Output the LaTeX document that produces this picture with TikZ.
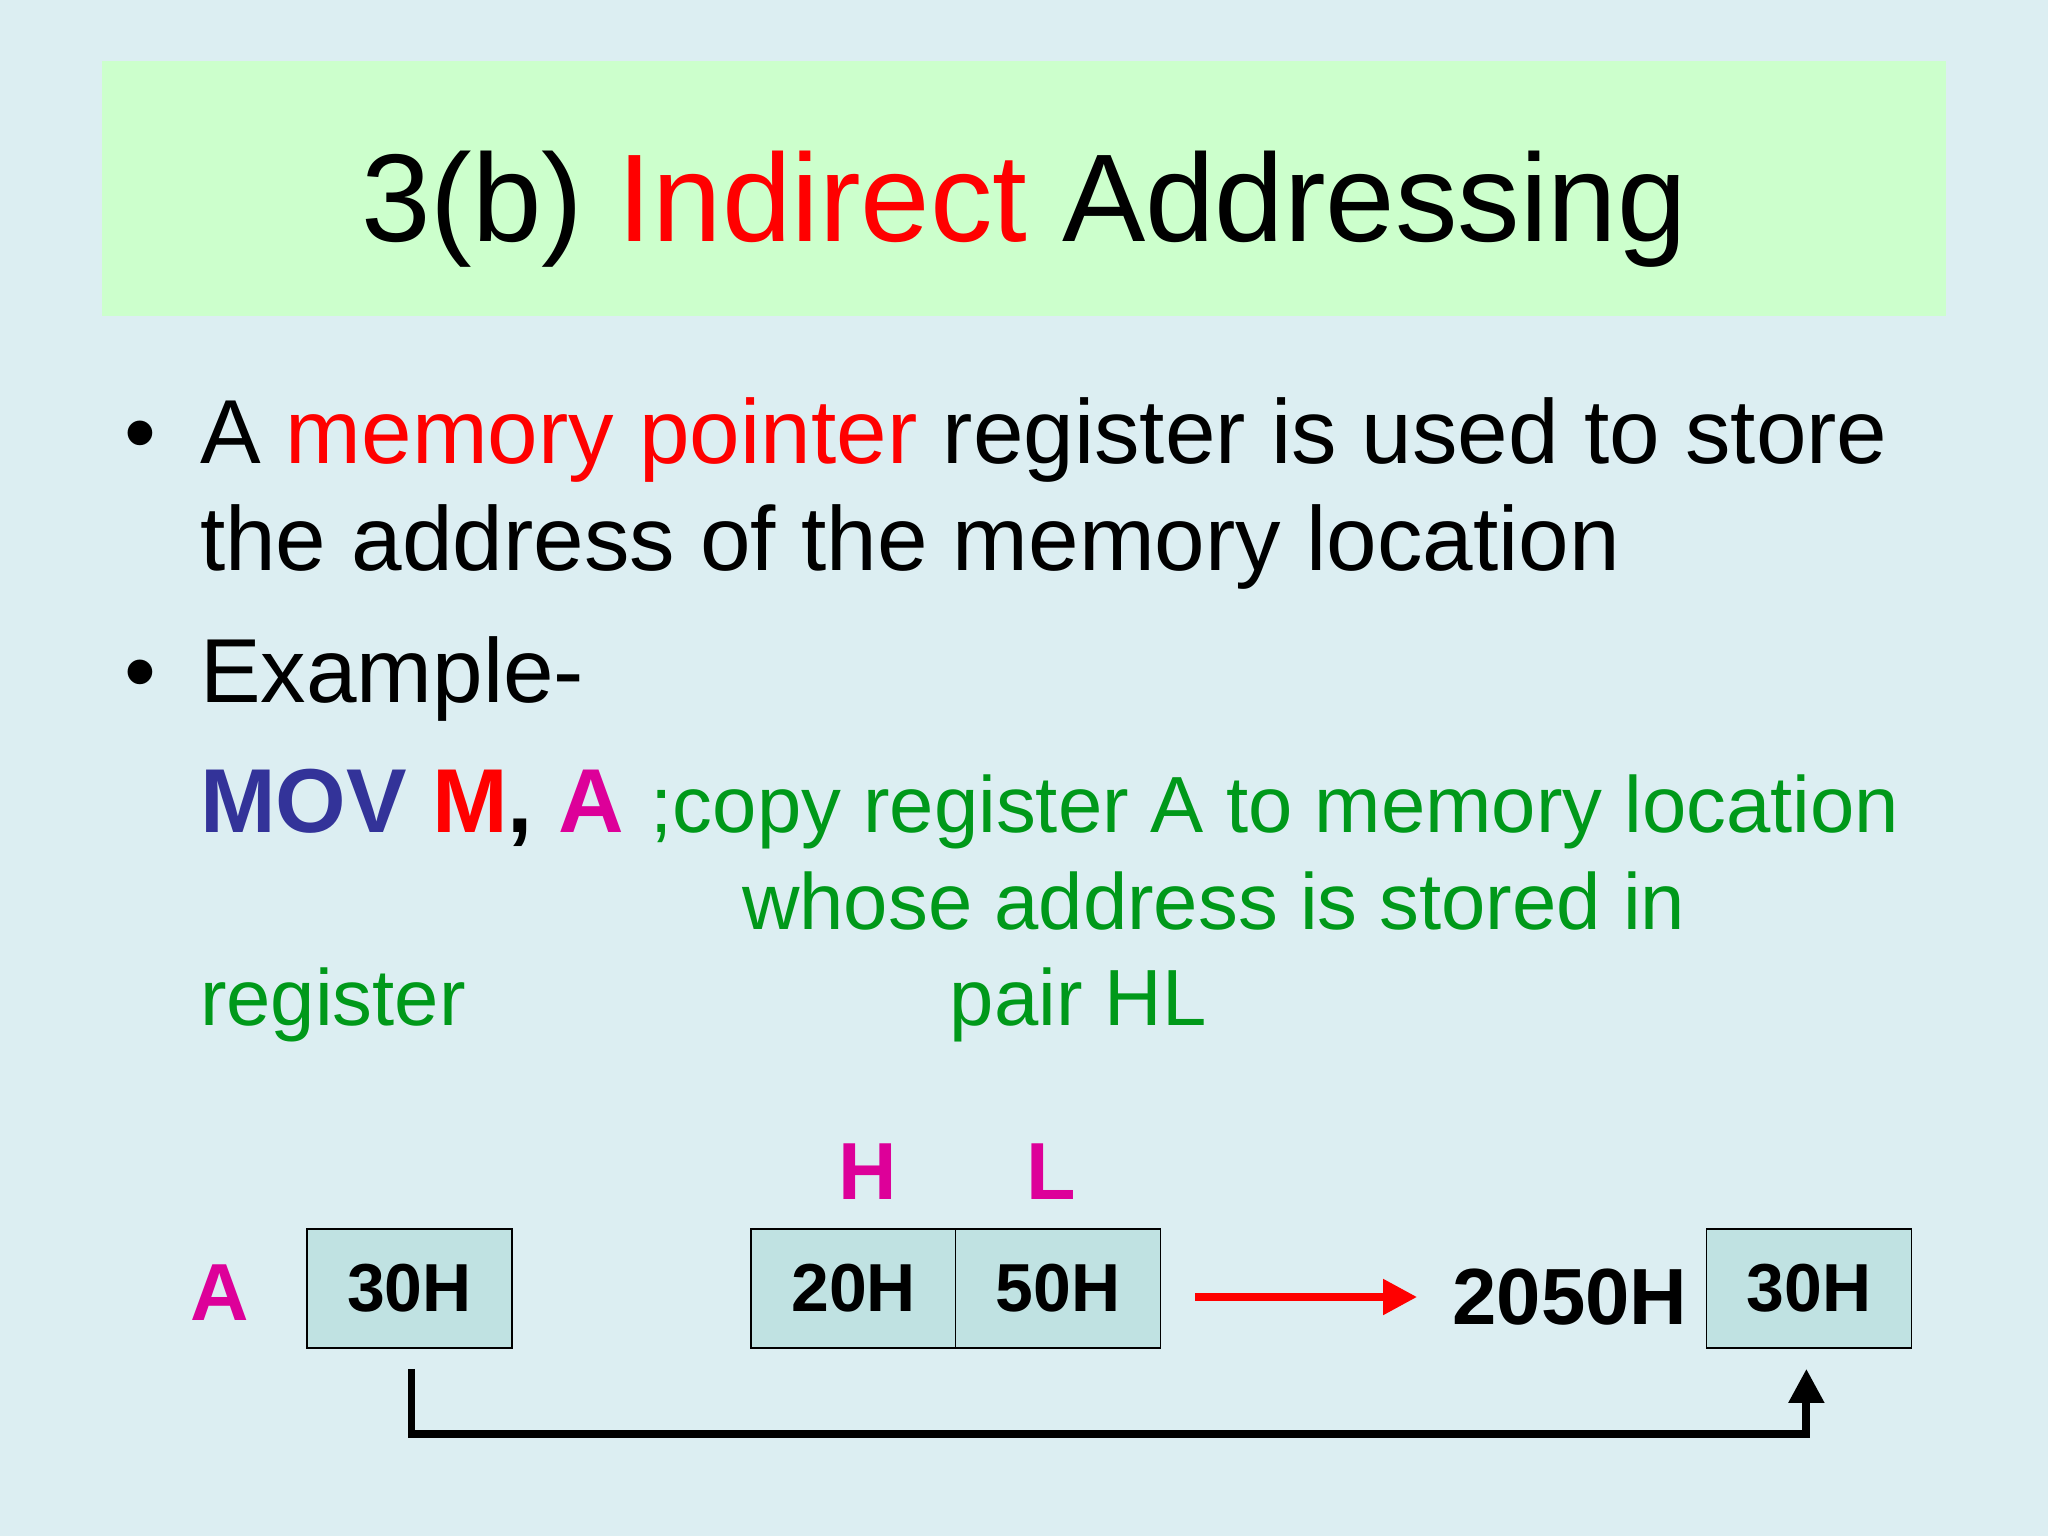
\documentclass[tikz,border=0pt]{standalone}
\usepackage{fontspec}
\setmainfont{Liberation Sans}
\usetikzlibrary{arrows.meta}
\definecolor{bg}{HTML}{DCEEF2}
\definecolor{ttl}{HTML}{CCFFCC}
\definecolor{cell}{HTML}{C0E2E2}
\definecolor{grn}{HTML}{00991A}
\definecolor{mag}{HTML}{DD0099}
\definecolor{navy}{HTML}{333399}
\definecolor{rd}{HTML}{FF0000}
\tikzset{
  cellbox/.style={draw=black, line width=1pt, fill=cell, minimum width=157pt, minimum height=91pt, inner sep=0pt, font=\fontsize{52}{60}\selectfont\bfseries},
  txt/.style={anchor=base west, inner sep=0pt, font=\fontsize{69.6}{80}\selectfont},
  gtxt/.style={anchor=base west, inner sep=0pt, text=grn, font=\fontsize{61}{70}\selectfont},
  lbl/.style={inner sep=0pt, text=mag, font=\fontsize{62}{70}\selectfont\bfseries}
}
\begin{document}
\begin{tikzpicture}[x=1pt,y=-1pt]
\fill[bg] (0,0) rectangle (1568,1176);
\useasboundingbox (0,0) rectangle (1568,1176);
\fill[ttl] (78,47) rectangle (1490,242);
\node[anchor=base, inner sep=0pt, font=\fontsize{95.6}{110}\selectfont] (title) at (784,185) {3(b) \textcolor{rd}{Indirect} Addressing};
\node[txt] (b1) at (95,355) {•};
\node[txt] (l1) at (153,355) {A \textcolor{rd}{memory pointer} register is used to store};
\node[txt] (l2) at (153,437) {the address of the memory location};
\node[txt] (b2) at (95,538) {•};
\node[txt] (l3) at (153,538) {Example-};
\node[anchor=base west, inner sep=0pt, font=\fontsize{69.5}{80}\selectfont\bfseries] (mov) at (153,637) {\textcolor{navy}{MOV} \textcolor{rd}{M}, \textcolor{mag}{A}};
\node[gtxt] (c1) at (498,637) {;copy register A to memory location};
\node[gtxt] (c2) at (568,712) {whose address is stored in};
\node[gtxt] (c3) at (153,785) {register};
\node[gtxt] (c4) at (727,785) {pair HL};
\node[cellbox] (a) at (313.5,986.5) {30H};
\node[cellbox] (h) at (653.5,986.5) {20H};
\node[cellbox] (l) at (810,986.5) {50H};
\node[cellbox] (m) at (1385,986.5) {30H};
\node[lbl] (la) at (168,990) {A};
\node[lbl, anchor=base] (lh) at (664,918) {H};
\node[lbl, anchor=base] (ll) at (805,918) {L};
\node[inner sep=0pt, font=\fontsize{61}{70}\selectfont\bfseries] (addr) at (1202,993) {2050H};
\coordinate (r1) at (915,993);
\coordinate (r2) at (1085,993);
\draw[rd, line width=6pt, -{Triangle[length=26pt,width=26pt]}] (r1) -- (r2);
\coordinate (p0) at (315,1048);
\coordinate (p1) at (315,1098);
\coordinate (p2) at (1383,1098);
\coordinate (p3) at (1383,1048);
\draw[black, line width=6pt, -{Triangle[length=26pt,width=26pt]}] (p0) -- (p1) -- (p2) -- (p3);
\end{tikzpicture}
\end{document}
